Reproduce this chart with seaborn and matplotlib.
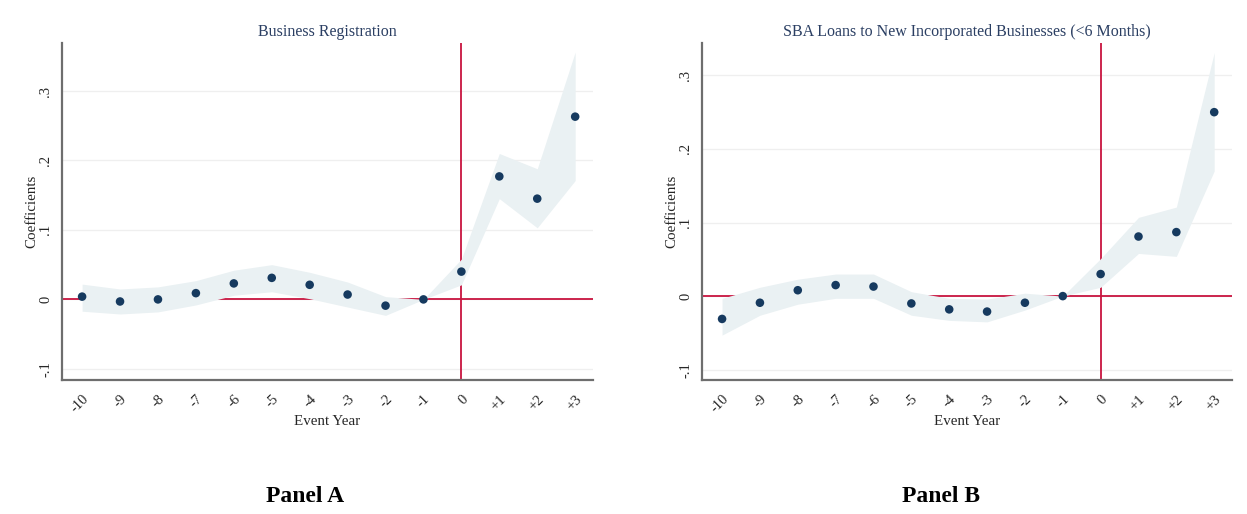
import matplotlib
matplotlib.use("Agg")
import matplotlib.pyplot as plt
import numpy as np
import pandas as pd
import seaborn as sns

# Event time and axis labels
event_years = [-10, -9, -8, -7, -6, -5, -4, -3, -2, -1, 0, 1, 2, 3]
event_labels = ["-10", "-9", "-8", "-7", "-6", "-5", "-4", "-3", "-2", "-1",
                "0", "+1", "+2", "+3"]
y_ticks = [-0.1, 0.0, 0.1, 0.2, 0.3]
y_tick_labels = ["-.1", "0", ".1", ".2", ".3"]

# Panel A: business registration
reg_coef = [0.004, -0.003, 0.000, 0.009, 0.023, 0.031, 0.021, 0.007, -0.009,
            0.000, 0.040, 0.177, 0.145, 0.263]
reg_upper = [0.022, 0.015, 0.018, 0.027, 0.042, 0.050, 0.039, 0.025, 0.004,
             0.000, 0.058, 0.210, 0.188, 0.356]
reg_lower = [-0.017, -0.021, -0.018, -0.008, 0.006, 0.011, 0.001, -0.011, -0.023,
             0.000, 0.021, 0.145, 0.103, 0.171]

# Panel B: SBA loans to newly incorporated businesses
sba_coef = [-0.031, -0.009, 0.008, 0.015, 0.013, -0.010, -0.018, -0.021, -0.009,
            0.000, 0.030, 0.081, 0.087, 0.250]
sba_upper = [-0.003, 0.012, 0.023, 0.030, 0.030, 0.006, -0.003, -0.004, 0.004,
             0.000, 0.051, 0.107, 0.121, 0.331]
sba_lower = [-0.053, -0.026, -0.011, -0.003, -0.003, -0.026, -0.033, -0.035, -0.019,
             0.000, 0.012, 0.058, 0.054, 0.170]

sns.set_style("white")
plt.rcParams["font.family"] = ["Liberation Serif", "DejaVu Serif"]

BAND = "#eaf1f3"
DOT = "#163a5f"
RED = "#c8143f"
TITLE = "#2b3f63"
SPINE = "#6e6e6e"
TEXT = "#262626"

W, H = 1247, 514
fig = plt.figure(figsize=(W / 100, H / 100), dpi=100)


def panel(rect, title, coef, upper, lower, ylim, panel_name, panel_x):
    ax = fig.add_axes(rect)
    df = pd.DataFrame({"year": event_years, "coef": coef,
                       "upper": upper, "lower": lower})
    for y in y_ticks:
        ax.axhline(y, color="#efefef", lw=0.9, zorder=0)
    ax.axhline(0, color=RED, lw=1.3, zorder=1)
    ax.axvline(0, color=RED, lw=1.3, zorder=1)
    ax.fill_between(df["year"], df["lower"], df["upper"], color=BAND,
                    lw=0, zorder=2)
    sns.scatterplot(data=df, x="year", y="coef", ax=ax, color=DOT, s=38,
                    edgecolor="none", zorder=3)
    ax.set_xlim(-10.53, 3.47)
    ax.set_ylim(*ylim)
    ax.set_xticks(event_years)
    ax.set_xticklabels(event_labels, rotation=45, ha="right",
                       rotation_mode="anchor", fontsize=10.5, color=TEXT)
    ax.set_yticks(y_ticks)
    ax.set_yticklabels(y_tick_labels, rotation=90, va="center",
                       fontsize=10.5, color=TEXT)
    ax.tick_params(axis="both", direction="out", length=4, width=1,
                   color=SPINE, pad=3)
    ax.tick_params(axis="x", pad=5)
    for side in ("top", "right"):
        ax.spines[side].set_visible(False)
    for side in ("left", "bottom"):
        ax.spines[side].set_color(SPINE)
        ax.spines[side].set_linewidth(1.6)
    ax.set_xlabel("Event Year", fontsize=10.8, color=TEXT, labelpad=0)
    ax.set_ylabel("Coefficients", fontsize=10.8, color=TEXT, labelpad=1)
    ax.set_title(title, fontsize=11.5, color=TITLE, pad=5)
    fig.text(panel_x / W, 1 - 497 / H, panel_name, ha="center", va="center",
             fontsize=17, fontweight="bold", color="black")
    return ax


panel([62 / W, 1 - 380 / H, (593 - 62) / W, (380 - 43) / H],
      "Business Registration", reg_coef, reg_upper, reg_lower,
      (-0.116, 0.369), "Panel A", 305)
panel([702 / W, 1 - 380 / H, (1232 - 702) / W, (380 - 43) / H],
      "SBA Loans to New Incorporated Businesses (<6 Months)",
      sba_coef, sba_upper, sba_lower, (-0.114, 0.344), "Panel B", 941)

fig.savefig("out.png", dpi=100, facecolor="white")
